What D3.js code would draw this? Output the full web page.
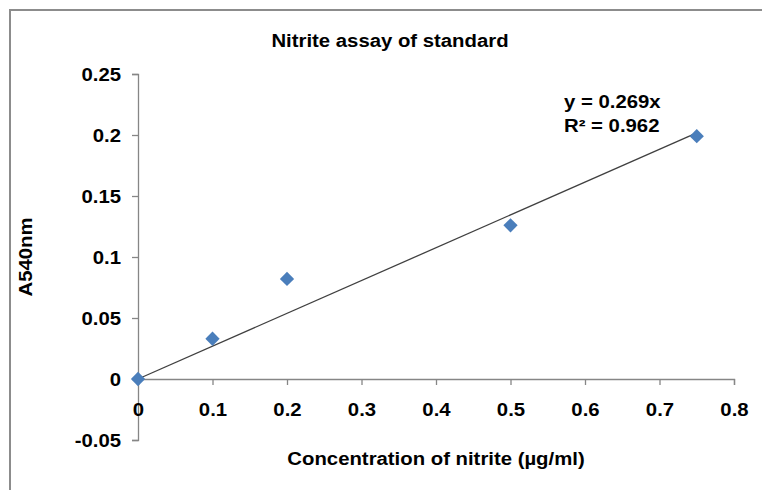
<!DOCTYPE html>
<html>
<head>
<meta charset="utf-8">
<script src="https://cdn.jsdelivr.net/npm/d3@7"></script>
<style>
  body { margin: 0; background: #fff; }
  text { font-family: "Liberation Sans", Arial, sans-serif; fill: #000; }
  .tick text { font-size: 18px; font-weight: bold; }
</style>
</head>
<body>
<div id="chart"></div>
<script>
// standard curve data
var concentration = [0, 0.1, 0.2, 0.5, 0.75];
var absorbance = [0, 0.033, 0.082, 0.126, 0.199];
var xTicks = [0, 0.1, 0.2, 0.3, 0.4, 0.5, 0.6, 0.7, 0.8];
var yTicks = [-0.05, 0, 0.05, 0.1, 0.15, 0.2, 0.25];
var slope = 0.269;
var rSquared = 0.962;

var width = 762, height = 490;
var stretch = 'scale(1.13,1)'; // text in the original is drawn a bit wide

var svg = d3.select('#chart').append('svg')
    .attr('width', width)
    .attr('height', height);

// outer frame (only top/left visible)
svg.append('path')
    .attr('d', 'M10,' + (height + 5) + 'V10H' + (width + 5))
    .attr('fill', 'none')
    .attr('stroke', '#8c8c8c')
    .attr('stroke-width', 2);

var x = d3.scaleLinear().domain([0, 0.8]).range([138, 734]);
var y = d3.scaleLinear().domain([-0.05, 0.25]).range([440, 74]);

// y axis
var yAxis = svg.append('g')
    .attr('transform', 'translate(' + x(0) + ',0)')
    .call(d3.axisLeft(y).tickValues(yTicks).tickSize(6).tickPadding(9)
      .tickFormat(function(d) { return String(+d.toFixed(2)); }));

// x axis at y = 0
var xAxis = svg.append('g')
    .attr('transform', 'translate(0,' + y(0) + ')')
    .call(d3.axisBottom(x).tickValues(xTicks).tickSize(6).tickPadding(22)
      .tickFormat(function(d) { return String(+d.toFixed(1)); }));

[yAxis, xAxis].forEach(function(g) {
  g.select('.domain').attr('stroke', '#868686').attr('stroke-width', 1.3);
  g.selectAll('.tick line').attr('stroke', '#868686').attr('stroke-width', 1.3);
  g.selectAll('.tick text').attr('transform', stretch);
});
yAxis.selectAll('.tick text').attr('dy', '0.36em');
xAxis.selectAll('.tick text').attr('dy', '0.5em');

// trendline
svg.append('line')
    .attr('x1', x(0)).attr('y1', y(0))
    .attr('x2', x(0.75)).attr('y2', y(slope * 0.75))
    .attr('stroke', '#404040')
    .attr('stroke-width', 1.3);

// markers
var diamond = d3.symbol().type(d3.symbolDiamond2).size(130);
svg.selectAll('path.pt')
    .data(concentration)
    .enter().append('path')
    .attr('class', 'pt')
    .attr('d', diamond)
    .attr('transform', function(d, i) { return 'translate(' + x(d) + ',' + y(absorbance[i]) + ')'; })
    .attr('fill', '#4a7ebb');

function label(tx, ty, rot, size) {
  return svg.append('text')
      .attr('transform', 'translate(' + tx + ',' + ty + ')' + (rot ? ' rotate(' + rot + ')' : '') + ' ' + stretch)
      .style('font-size', size + 'px')
      .style('font-weight', 'bold');
}

// titles
label(390, 47, 0, 18).attr('text-anchor', 'middle').text('Nitrite assay of standard');
label(436, 465, 0, 18).attr('text-anchor', 'middle').text('Concentration of nitrite (\u00b5g/ml)');
label(32, 257, -90, 18).attr('text-anchor', 'middle').text('A540nm');

// equation label
var eq = label(564, 108, 0, 18);
eq.append('tspan').attr('x', 0).text('y = ' + slope + 'x');
eq.append('tspan').attr('x', 0).attr('dy', 24).text('R\u00b2 = ' + rSquared);
</script>
</body>
</html>
